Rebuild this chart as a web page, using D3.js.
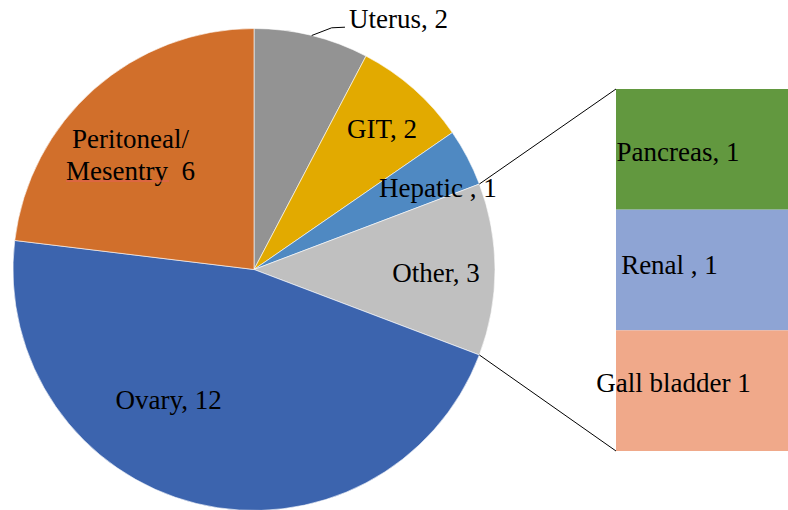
<!DOCTYPE html>
<html>
<head>
<meta charset="utf-8">
<script src="https://cdn.jsdelivr.net/npm/d3@7"></script>
<style>
  body { margin: 0; background: #fff; }
</style>
</head>
<body>
<svg id="chart" width="788" height="510" font-family="Liberation Serif" font-size="27"></svg>
<script>
// pie slices, clockwise from 12 o'clock
const pieNames = ["Uterus", "GIT", "Hepatic", "Other", "Ovary", "Peritoneal/Mesentry"];
const pieValues = [2, 2, 1, 3, 12, 6];
const pieLabels = [["Uterus, 2"], ["GIT, 2"], ["Hepatic , 1"], ["Other, 3"], ["Ovary, 12"], ["Peritoneal/", "Mesentry  6"]];
const pieColors = ["#939393", "#e2aa00", "#4f89c2", "#c0c0c0", "#3c64ae", "#d16f2b"];

// breakdown of "Other" shown in the bar
const barNames = ["Pancreas", "Renal", "Gall bladder"];
const barValues = [1, 1, 1];
const barLabels = ["Pancreas, 1", "Renal , 1", "Gall bladder 1"];
const barColors = ["#62983f", "#8ea4d4", "#f0a98a"];

const width = 788, height = 510;
const cx = 254, cy = 269.5, radius = 241;

const svg = d3.select("#chart");

const pie = d3.pie().sort(null).value(d => d)(pieValues);
const arc = d3.arc().innerRadius(0).outerRadius(radius);

const g = svg.append("g").attr("transform", `translate(${cx},${cy})`);

g.selectAll("path.slice")
  .data(pie)
  .enter()
  .append("path")
  .attr("class", "slice")
  .attr("d", arc)
  .attr("fill", (d, i) => pieColors[i])
  .attr("stroke", "#ffffff")
  .attr("stroke-width", 0.6);

// label placement: radius fraction, angle shift (deg), baseline shift
const labelLayout = [
  null,
  { r: 0.79, da: 0.7, dy: 9 },
  { r: 0.835, da: 3.7, dy: 9 },
  { r: 0.755, da: 0, dy: 12 },
  { r: 0.65, da: 19.2, dy: 8.5 },
  { r: 0.70, da: -5.5, dy: 9 }
];

const point = (a, r) => [Math.sin(a) * r, -Math.cos(a) * r];

const addText = (sel) => sel.append("text")
  .attr("font-family", "Liberation Serif")
  .attr("font-size", 27)
  .attr("fill", "#000");

pie.forEach((d, i) => {
  const mid = (d.startAngle + d.endAngle) / 2;
  if (i === 0) {
    // Uterus: leader line outside the pie
    const p0 = point(mid, radius);
    const p1 = [p0[0] + 20, p0[1] - 7.7];
    const p2 = [p1[0] + 13.3, p1[1] - 0.6];
    g.append("path")
      .attr("d", d3.line()([p0, p1, p2]))
      .attr("fill", "none")
      .attr("stroke", "#000")
      .attr("stroke-width", 1);
    addText(g)
      .attr("x", p2[0] + 4)
      .attr("y", p2[1] + 0.5)
      .attr("text-anchor", "start")
      .text(pieLabels[i][0]);
    return;
  }
  const lay = labelLayout[i];
  const p = point(mid + lay.da * Math.PI / 180, radius * lay.r);
  const lines = pieLabels[i];
  const lh = 32;
  const t = addText(g)
    .attr("text-anchor", "middle")
    .attr("xml:space", "preserve");
  lines.forEach((ln, k) => {
    t.append("tspan")
      .attr("x", p[0])
      .attr("y", p[1] + lay.dy + (k - (lines.length - 1) / 2) * lh)
      .text(ln);
  });
  // spell-check underline under "Mesentry"
  if (lines.length > 1) {
    const node = t.node();
    const start = lines[0].length;
    const s = node.getStartPositionOfChar(start);
    const e = node.getEndPositionOfChar(start + "Mesentry".length - 1);
    g.append("line")
      .attr("x1", s.x).attr("x2", e.x + 1)
      .attr("y1", s.y + 1.5).attr("y2", s.y + 1.5)
      .attr("stroke", "#e8605a")
      .attr("stroke-width", 1);
  }
});

// bar of pie
const barX = 616, barTop = 89, barBottom = 451;
const y = d3.scaleLinear()
  .domain([0, d3.sum(barValues)])
  .range([barTop, barBottom]);

let acc = 0;
const stacked = barValues.map(v => { const s = acc; acc += v; return [s, acc]; });

svg.selectAll("rect.bar")
  .data(stacked)
  .enter()
  .append("rect")
  .attr("class", "bar")
  .attr("x", barX)
  .attr("y", d => y(d[0]))
  .attr("width", width - barX + 10)
  .attr("height", d => y(d[1]) - y(d[0]))
  .attr("fill", (d, i) => barColors[i]);

const barLabelX = [678, 669.5, 673.5];
const barLabelDy = [11.2, 4, 1.5];
stacked.forEach((d, i) => {
  addText(svg)
    .attr("x", barLabelX[i])
    .attr("y", (y(d[0]) + y(d[1])) / 2 + barLabelDy[i])
    .attr("text-anchor", "middle")
    .text(barLabels[i]);
});

// connector lines from the "Other" slice to the bar
const other = pie[3];
const a0 = point(other.startAngle, radius);
const a1 = point(other.endAngle, radius);
svg.append("line")
  .attr("x1", cx + a0[0]).attr("y1", cy + a0[1])
  .attr("x2", barX).attr("y2", y(0))
  .attr("stroke", "#000").attr("stroke-width", 1);
svg.append("line")
  .attr("x1", cx + a1[0]).attr("y1", cy + a1[1])
  .attr("x2", barX).attr("y2", y(d3.sum(barValues)))
  .attr("stroke", "#000").attr("stroke-width", 1);
</script>
</body>
</html>
